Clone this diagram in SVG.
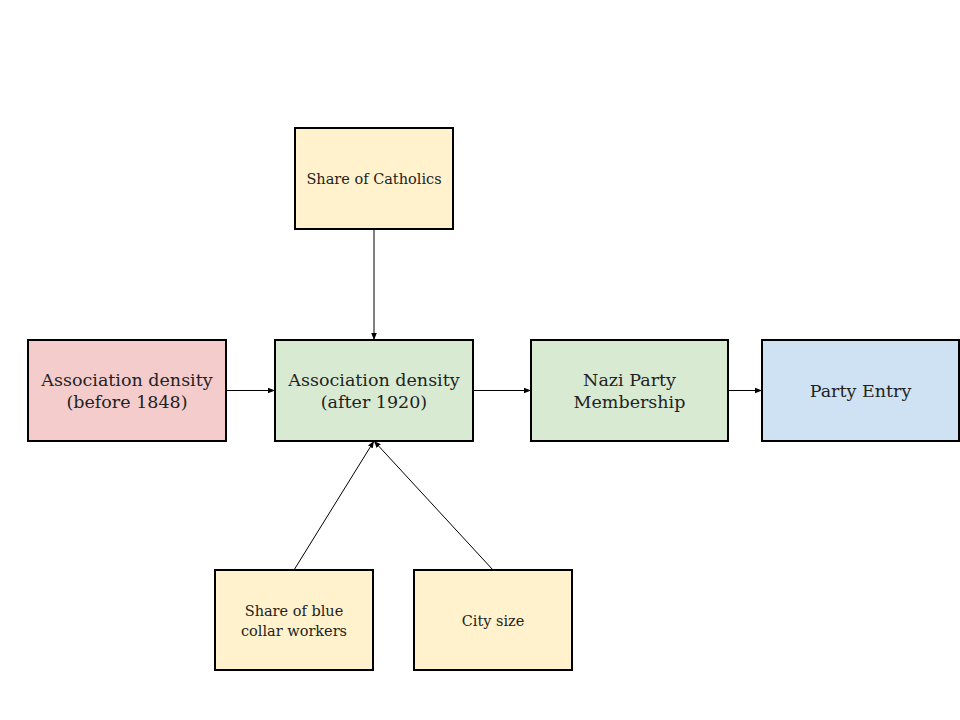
<svg xmlns="http://www.w3.org/2000/svg" width="960" height="720" viewBox="0 0 960 720">
<style>
.box{stroke:#000;stroke-width:2}
.y{fill:#fff2cc}.r{fill:#f4cccc}.g{fill:#d9ead3}.b{fill:#cfe2f3}
text{font-family:"DejaVu Serif","Liberation Serif",serif;fill:#222;text-anchor:middle;dominant-baseline:central}
.L{font-size:17.5px}.S{font-size:14.5px}
.c{stroke:#000;stroke-width:1;fill:none;marker-end:url(#ah)}
</style>
<defs>
<marker id="ah" viewBox="0 0 10 10" refX="10" refY="5" markerWidth="7" markerHeight="7" markerUnits="userSpaceOnUse" orient="auto">
<path d="M0,1 L10,5 L0,9 Z" fill="#000"/>
</marker>
</defs>
<rect width="960" height="720" fill="#fff"/>
<g id="connectors">
<line class="c" x1="374" y1="229" x2="374" y2="340"/>
<line class="c" x1="226" y1="390.5" x2="275" y2="390.5"/>
<line class="c" x1="473" y1="390.5" x2="531" y2="390.5"/>
<line class="c" x1="728" y1="390.5" x2="762" y2="390.5"/>
<line class="c" x1="294" y1="570" x2="374" y2="441"/>
<line class="c" x1="493" y1="570" x2="374" y2="441"/>
</g>
<g id="catholics"><rect class="box y" x="295" y="128" width="158" height="101"/><text class="S" x="374" y="179">Share of Catholics</text></g>
<g id="before1848"><rect class="box r" x="28" y="340" width="198" height="101"/><text class="L" x="127" y="380">Association density</text><text class="L" x="127" y="402">(before 1848)</text></g>
<g id="after1920"><rect class="box g" x="275" y="340" width="198" height="101"/><text class="L" x="374" y="380">Association density</text><text class="L" x="374" y="402">(after 1920)</text></g>
<g id="nazi"><rect class="box g" x="531" y="340" width="197" height="101"/><text class="L" x="629.5" y="380">Nazi Party</text><text class="L" x="629.5" y="402">Membership</text></g>
<g id="entry"><rect class="box b" x="762" y="340" width="197" height="101"/><text class="L" x="860.5" y="391">Party Entry</text></g>
<g id="bluecollar"><rect class="box y" x="215" y="570" width="158" height="100"/><text class="S" x="294" y="611">Share of blue</text><text class="S" x="294" y="631">collar workers</text></g>
<g id="citysize"><rect class="box y" x="414" y="570" width="158" height="100"/><text class="S" x="493" y="621">City size</text></g>
</svg>
